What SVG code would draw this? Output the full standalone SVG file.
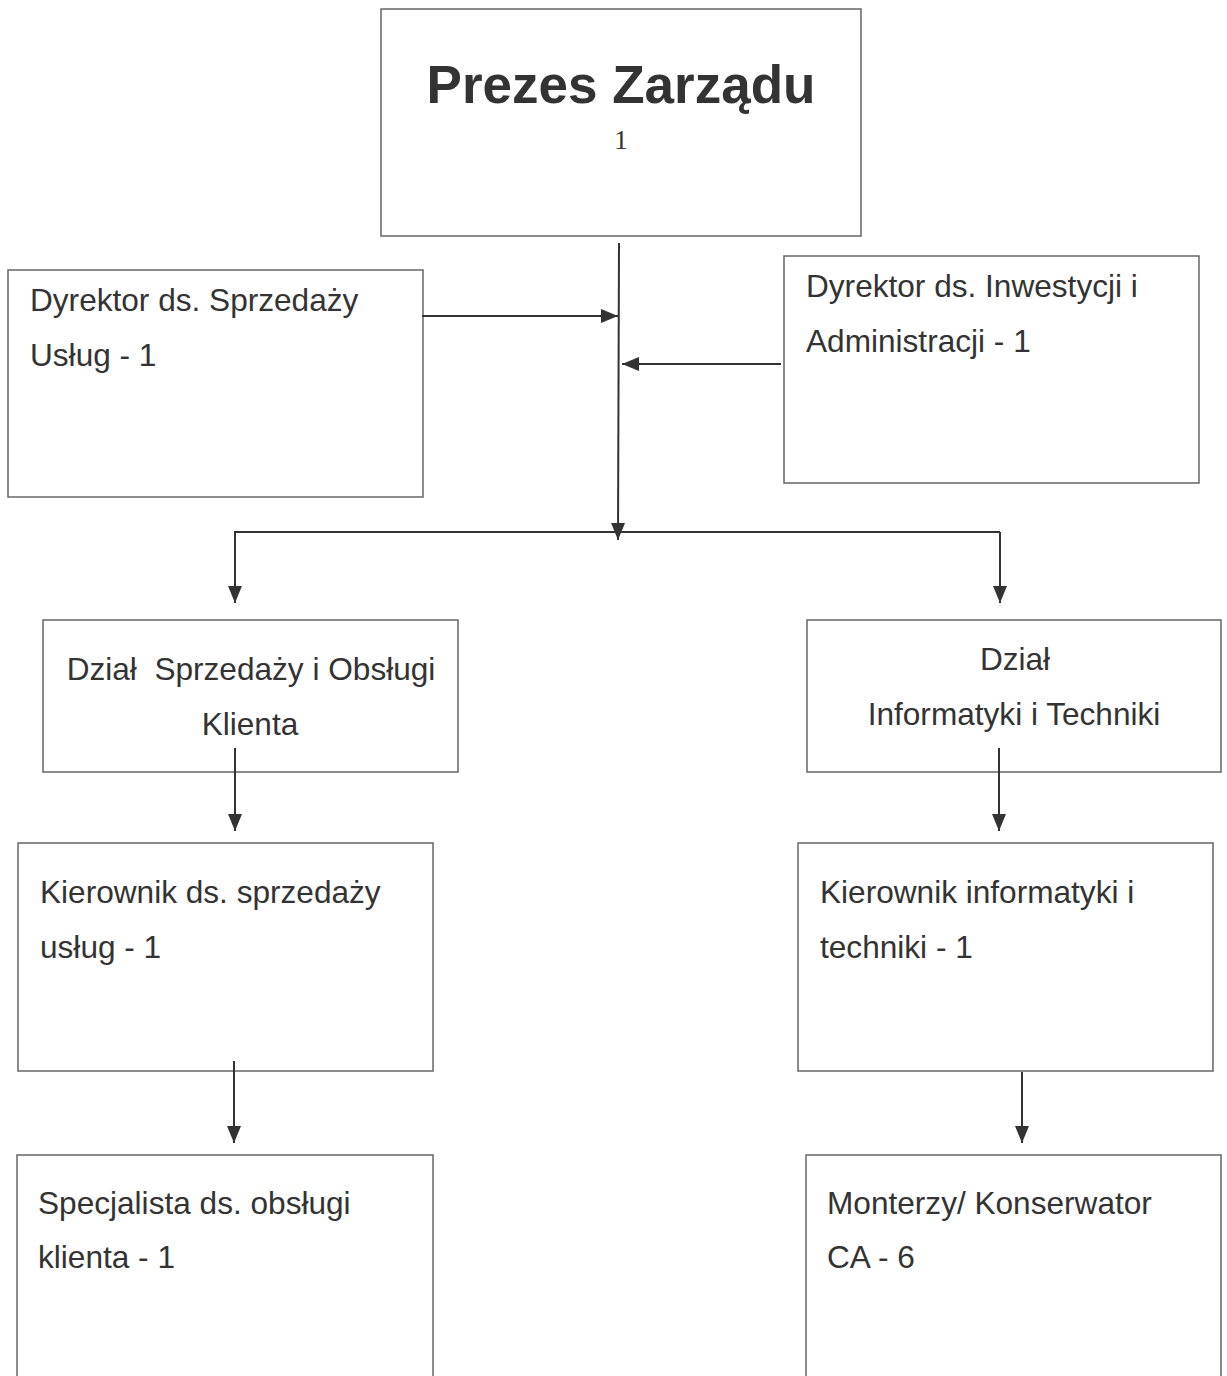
<svg xmlns="http://www.w3.org/2000/svg" width="1227" height="1376" viewBox="0 0 1227 1376">
<style>
.box{fill:#fff;stroke:#666;stroke-width:1.5}
.t{font-family:"Liberation Sans",Arial,sans-serif;font-size:31.6px;fill:#333}
.c{text-anchor:middle}
.ln{stroke:#333;stroke-width:2;fill:none}
</style>
<defs>
<marker id="ah" markerUnits="userSpaceOnUse" markerWidth="18" markerHeight="18" viewBox="0 0 18 18" refX="17" refY="9" orient="auto">
<path d="M0,2 L17,9 L0,16 Z" fill="#333"/>
</marker>
</defs>
<rect width="1227" height="1376" fill="#fff"/>
<g id="prezes">
<rect class="box" x="381" y="9" width="480" height="227"/>
<text x="621" y="103" text-anchor="middle" font-family="Liberation Sans,Arial,sans-serif" font-weight="bold" font-size="53" fill="#333">Prezes Zarządu</text>
<text x="621" y="149" text-anchor="middle" font-family="Liberation Serif,Times New Roman,serif" font-size="27" fill="#333">1</text>
</g>
<g id="dyr-sprzedazy">
<rect class="box" x="8" y="270" width="415" height="227"/>
<text class="t" x="30" y="311">Dyrektor ds. Sprzedaży</text>
<text class="t" x="30" y="366">Usług - 1</text>
</g>
<g id="dyr-inwestycji">
<rect class="box" x="784" y="256" width="415" height="227"/>
<text class="t" x="806" y="297">Dyrektor ds. Inwestycji i</text>
<text class="t" x="806" y="352">Administracji - 1</text>
</g>
<g id="dzial-sprzedazy">
<rect class="box" x="43" y="620" width="415" height="152"/>
<text class="t c" x="251" y="680" xml:space="preserve">Dział  Sprzedaży i Obsługi</text>
<text class="t c" x="250" y="735">Klienta</text>
</g>
<g id="dzial-informatyki">
<rect class="box" x="807" y="620" width="414" height="152"/>
<text class="t c" x="1015" y="670">Dział</text>
<text class="t c" x="1014" y="725">Informatyki i Techniki</text>
</g>
<g id="kier-sprzedazy">
<rect class="box" x="18" y="843" width="415" height="228"/>
<text class="t" x="40" y="903">Kierownik ds. sprzedaży</text>
<text class="t" x="40" y="958">usług - 1</text>
</g>
<g id="kier-informatyki">
<rect class="box" x="798" y="843" width="415" height="228"/>
<text class="t" x="820" y="903">Kierownik informatyki i</text>
<text class="t" x="820" y="958">techniki - 1</text>
</g>
<g id="specjalista">
<rect class="box" x="17" y="1155" width="416" height="240"/>
<text class="t" x="38" y="1214">Specjalista ds. obsługi</text>
<text class="t" x="38" y="1268">klienta - 1</text>
</g>
<g id="monterzy">
<rect class="box" x="806" y="1155" width="415" height="240"/>
<text class="t" x="827" y="1214">Monterzy/ Konserwator</text>
<text class="t" x="827" y="1268">CA - 6</text>
</g>
<g id="connectors">
<line class="ln" x1="619" y1="243" x2="618" y2="540" marker-end="url(#ah)"/>
<line class="ln" x1="422" y1="316" x2="618" y2="316" marker-end="url(#ah)"/>
<line class="ln" x1="781" y1="364" x2="622" y2="364" marker-end="url(#ah)"/>
<line class="ln" x1="234" y1="532" x2="1000" y2="532"/>
<line class="ln" x1="235" y1="532" x2="235" y2="603" marker-end="url(#ah)"/>
<line class="ln" x1="1000" y1="532" x2="1000" y2="603" marker-end="url(#ah)"/>
<line class="ln" x1="235" y1="748" x2="235" y2="831" marker-end="url(#ah)"/>
<line class="ln" x1="999" y1="748" x2="999" y2="831" marker-end="url(#ah)"/>
<line class="ln" x1="234" y1="1061" x2="234" y2="1143" marker-end="url(#ah)"/>
<line class="ln" x1="1022" y1="1072" x2="1022" y2="1143" marker-end="url(#ah)"/>
</g>
</svg>
